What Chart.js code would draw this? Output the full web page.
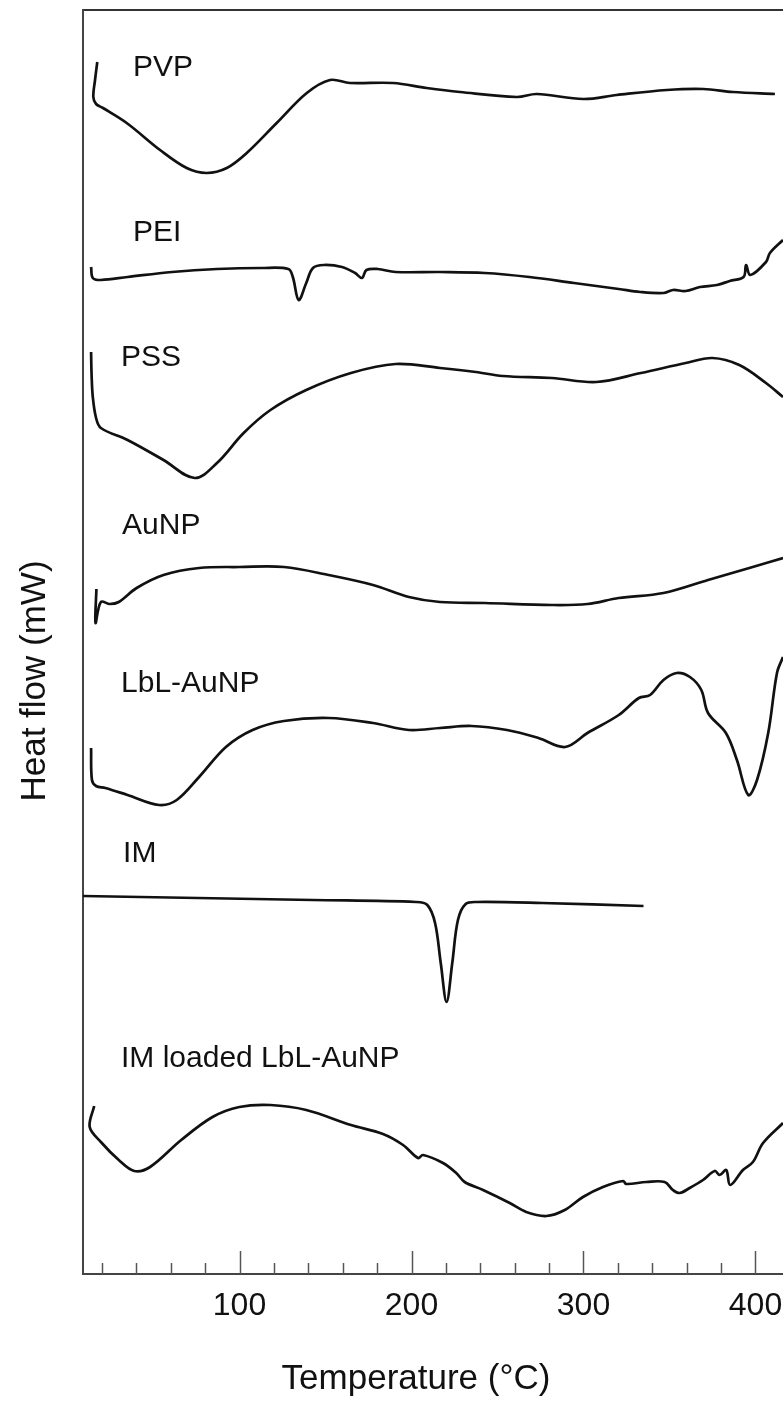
<!DOCTYPE html>
<html>
<head>
<meta charset="utf-8">
<script src="https://cdn.jsdelivr.net/npm/chart.js@4.4.1/dist/chart.umd.min.js"></script>
<style>
  html, body { margin: 0; padding: 0; background: #ffffff; }
  #wrap { width: 783px; height: 1401px; position: relative; }
</style>
</head>
<body>
<div id="wrap"><canvas id="c" width="783" height="1401"></canvas></div>
<script>
// ---- Data (temperature in °C, heat flow in arbitrary stacked units) ----
const seriesNames = ['PVP', 'PEI', 'PSS', 'AuNP', 'LbL-AuNP', 'IM', 'IM loaded LbL-AuNP'];

const pvpT = [17.3, 16.0, 15.0, 16.6, 20.6, 34.4, 53.8, 69.3, 80.9, 92.6, 104.2, 121.6, 139.1, 152.6, 164.2, 189.2, 208.8, 228.2, 261.2, 272.8, 299.9, 319.3, 348.4, 369.7, 386.9, 411.3];
const pvpV = [121.2, 119.4, 117.7, 117.0, 116.6, 115.1, 112.4, 110.6, 110.1, 110.6, 112.1, 115.1, 118.1, 119.4, 119.1, 119.1, 118.6, 118.2, 117.7, 118.0, 117.5, 117.9, 118.4, 118.5, 118.2, 118.0];

const peiT = [13.7, 14.7, 19.4, 34.9, 60.8, 86.9, 112.8, 128.4, 131.0, 134.4, 138.8, 142.7, 149.1, 159.6, 167.2, 171.2, 173.8, 180.3, 190.7, 216.6, 242.6, 268.5, 294.5, 320.5, 333.0, 346.5, 352.0, 359.4, 367.7, 377.6, 385.0, 393.1, 394.5, 397.0, 406.1, 408.4, 416.0];
const peiV = [100.7, 99.6, 99.4, 99.7, 100.2, 100.5, 100.6, 100.5, 99.7, 97.4, 99.1, 100.6, 100.9, 100.7, 100.1, 99.6, 100.4, 100.5, 100.2, 100.2, 100.1, 99.7, 99.1, 98.5, 98.2, 98.1, 98.4, 98.3, 98.7, 98.9, 99.3, 99.7, 100.9, 99.9, 101.2, 102.1, 103.4];

const pssT = [13.7, 14.0, 14.7, 16.6, 19.4, 34.9, 55.8, 73.9, 86.9, 102.4, 118.0, 138.8, 164.8, 190.7, 216.6, 237.4, 253.0, 281.6, 307.5, 333.4, 359.4, 375.0, 390.6, 406.1, 416.0];
const pssV = [92.2, 89.9, 87.7, 85.6, 84.6, 83.4, 81.4, 79.6, 81.1, 84.1, 86.4, 88.4, 90.1, 91.0, 90.6, 90.2, 89.8, 89.6, 89.2, 90.1, 91.1, 91.6, 90.9, 89.1, 87.7];

const aunpT = [16.8, 16.3, 19.4, 24.6, 29.8, 40.2, 55.8, 76.5, 99.9, 125.9, 151.7, 177.6, 198.5, 216.6, 242.6, 281.6, 302.3, 320.5, 346.5, 372.4, 398.4, 416.0];
const aunpV = [68.5, 65.1, 67.2, 67.0, 67.2, 68.6, 69.9, 70.6, 70.7, 70.7, 69.9, 68.9, 67.7, 67.2, 67.1, 66.9, 67.0, 67.6, 68.1, 69.4, 70.7, 71.6];

const lblT = [13.7, 14.2, 16.6, 22.0, 34.9, 53.2, 63.5, 76.5, 92.1, 107.6, 125.8, 151.7, 177.6, 198.5, 216.6, 234.8, 255.5, 273.8, 289.3, 302.3, 320.5, 332.2, 338.7, 346.5, 354.2, 361.9, 368.5, 372.4, 382.8, 389.2, 395.8, 400.9, 407.4, 412.5, 416.0];
const lblV = [52.6, 49.4, 48.8, 48.6, 47.9, 46.9, 47.4, 49.7, 52.7, 54.4, 55.3, 55.6, 55.1, 54.4, 54.6, 54.8, 54.4, 53.6, 52.7, 54.1, 55.9, 57.6, 57.9, 59.4, 60.1, 59.7, 58.4, 56.1, 54.1, 51.4, 47.9, 49.4, 54.1, 60.1, 61.7];

const imT = [9.0, 75.8, 142.5, 202.6, 209.2, 213.7, 217.0, 220.4, 223.7, 227.0, 231.5, 238.2, 276.0, 334.9];
const imV = [37.8, 37.6, 37.4, 37.2, 36.9, 35.1, 31.1, 27.2, 31.1, 35.4, 37.0, 37.2, 37.1, 36.8];

const imLoadedT = [15.5, 12.9, 19.4, 29.8, 38.8, 48.0, 66.1, 84.3, 99.9, 118.0, 138.8, 164.8, 183.4, 195.1, 203.8, 206.7, 218.3, 226.0, 230.9, 241.6, 257.1, 266.7, 278.4, 289.1, 299.7, 311.3, 323.0, 324.9, 336.5, 347.2, 352.0, 355.9, 361.7, 369.5, 376.3, 379.2, 383.0, 385.3, 392.7, 398.5, 404.4, 416.0];
const imLoadedV = [16.8, 14.7, 13.2, 11.4, 10.3, 10.7, 13.4, 15.7, 16.7, 16.9, 16.4, 14.9, 14.0, 12.9, 11.6, 11.9, 11.1, 10.1, 9.2, 8.4, 7.1, 6.2, 5.8, 6.4, 7.7, 8.7, 9.3, 9.0, 9.2, 9.2, 8.4, 8.1, 8.6, 9.4, 10.3, 9.9, 10.4, 8.9, 10.4, 11.2, 13.1, 15.1];

// Label anchors (left edge temperature, baseline heat-flow value)
const labelT = [38.1, 38.1, 31.1, 31.7, 31.1, 32.3, 31.1];
const labelV = [119.8, 103.3, 90.8, 74.0, 58.2, 41.2, 20.7];

// Axis
const xTickValues = [100, 200, 300, 400];
const xMinorTickValues = [20, 40, 60, 80, 120, 140, 160, 180, 220, 240, 260, 280, 320, 340, 360, 380];
const xMin = 9.0, xMax = 416.0;
const yMin = 0, yMax = 126.4;
const xTitle = 'Temperature (°C)';
const yTitle = 'Heat flow (mW)';

// ---- Build datasets ----
const seriesT = [pvpT, peiT, pssT, aunpT, lblT, imT, imLoadedT];
const seriesV = [pvpV, peiV, pssV, aunpV, lblV, imV, imLoadedV];
const datasets = seriesNames.map((name, i) => ({
  label: name,
  data: seriesT[i].map((t, j) => ({ x: t, y: seriesV[i][j] })),
  borderColor: '#111111',
  borderWidth: 2.7,
  pointRadius: 0,
  tension: 0.35,
  fill: false,
  xAxisID: 'x',
  yAxisID: 'y'
}));

const FONT = "'Liberation Sans', Arial, sans-serif";

const noPad = s => { s.paddingLeft = 0; s.paddingRight = 0; s.paddingTop = 0; s.paddingBottom = 0; };

const decor = {
  id: 'decor',
  afterDatasetsDraw(chart) {
    const ctx = chart.ctx;
    const xs = chart.scales.x, ys = chart.scales.y;
    const bottom = chart.chartArea.bottom;
    ctx.save();
    // inward tick marks
    ctx.strokeStyle = '#555555';
    ctx.lineWidth = 1.5;
    xMinorTickValues.forEach(v => {
      const px = Math.round(xs.getPixelForValue(v)) + 0.5;
      ctx.beginPath(); ctx.moveTo(px, bottom); ctx.lineTo(px, bottom - 11); ctx.stroke();
    });
    xTickValues.forEach(v => {
      const px = Math.round(xs.getPixelForValue(v)) + 0.5;
      ctx.beginPath(); ctx.moveTo(px, bottom); ctx.lineTo(px, bottom - 23); ctx.stroke();
    });
    // curve labels
    ctx.fillStyle = '#111111';
    ctx.font = '30px ' + FONT;
    ctx.textAlign = 'left';
    ctx.textBaseline = 'alphabetic';
    seriesNames.forEach((name, i) => {
      ctx.fillText(name, xs.getPixelForValue(labelT[i]), ys.getPixelForValue(labelV[i]));
    });
    // axis titles
    ctx.font = '35px ' + FONT;
    ctx.textAlign = 'center';
    ctx.fillText(xTitle, 416, 1389);
    ctx.translate(45, 681);
    ctx.rotate(-Math.PI / 2);
    ctx.fillText(yTitle, 0, 0);
    ctx.restore();
  }
};

new Chart(document.getElementById('c'), {
  type: 'line',
  data: { datasets },
  options: {
    responsive: false,
    animation: false,
    layout: { padding: { left: 83, top: 10, right: 0, bottom: 0 } },
    plugins: { legend: { display: false }, tooltip: { enabled: false } },
    scales: {
      x: {
        type: 'linear', position: 'bottom', min: xMin, max: xMax,
        afterBuildTicks: s => { s.ticks = xTickValues.map(v => ({ value: v })); },
        afterFit: s => { s.height = 127; noPad(s); },
        ticks: { color: '#111111', font: { family: FONT, size: 32 }, padding: 13, maxRotation: 0, autoSkip: false },
        grid: { display: true, drawOnChartArea: false, drawTicks: false },
        border: { display: true, color: '#444444', width: 2 }
      },
      xTop: {
        type: 'linear', position: 'top', min: xMin, max: xMax,
        afterFit: s => { s.height = 0; noPad(s); },
        ticks: { display: false },
        grid: { display: true, drawOnChartArea: false, drawTicks: false },
        border: { display: true, color: '#333333', width: 2 }
      },
      y: {
        type: 'linear', position: 'left', min: yMin, max: yMax,
        afterFit: s => { s.width = 0; noPad(s); },
        ticks: { display: false },
        grid: { display: true, drawOnChartArea: false, drawTicks: false },
        border: { display: true, color: '#444444', width: 2 }
      }
    }
  },
  plugins: [decor]
});
</script>
</body>
</html>
